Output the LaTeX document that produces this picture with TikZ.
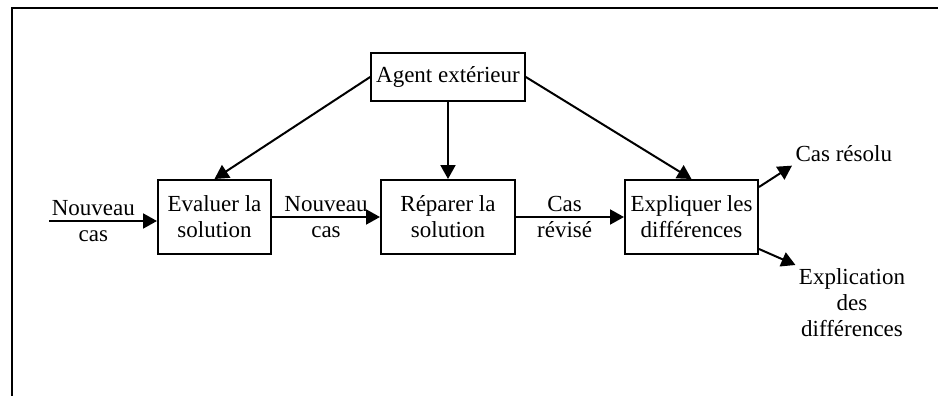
\documentclass[tikz,border=0pt]{standalone}
\usepackage{fontspec}
\setmainfont{Liberation Serif}
\usetikzlibrary{arrows.meta,positioning}
\newcommand{\taille}{\fontsize{23}{26}\selectfont}
\tikzset{
	etape/.style={
		rectangle,
		draw,
		line width=2pt,
		align=center,
		minimum height=74pt,
		inner xsep=5pt,
		font=\taille,
	},
	texte/.style={
		align=center,
		font=\taille,
	},
	fleche/.style={
		-{Triangle[length=14pt,width=15pt]},
		line width=2pt,
	},
}

\begin{document}
\begin{tikzpicture}[x=1pt,y=1pt,node distance=108pt]
	\useasboundingbox (0,0) rectangle (938,-396);
	\draw[line width=2.2pt] (12,-396) -- (12,-8) -- (938,-8);

	\node[etape,minimum width=113pt] (evaluer) at (214.5,-217) {Evaluer la\\solution};
	\node[etape,minimum width=134pt,right=of evaluer] (reparer) {Réparer la\\solution};
	\node[etape,minimum width=133pt,right=of reparer] (expliquer) {Expliquer les\\différences};
	\node[etape,minimum width=150pt,minimum height=48pt] (agent) at (448,-77) {Agent extérieur};
	\node[texte,anchor=west] (resolu) at (792,-154) {Cas résolu};
	\node[texte,anchor=north] (explication) at (852,-265) {Explication\\des\\différences};
	\coordinate (entree) at (49,-221);

	\draw[fleche] (entree) -- node[texte,pos=0.41] {Nouveau\\cas} (entree -| evaluer.west);
	\draw[fleche] (evaluer) -- node[texte] {Nouveau\\cas} (reparer);
	\draw[fleche] (reparer) -- node[texte,pos=0.45] {Cas\\révisé} (expliquer);
	\draw[fleche] (agent.west) -- (evaluer.north);
	\draw[fleche] (agent.south -| reparer.north) -- (reparer.north);
	\draw[fleche] (agent.east) -- (expliquer.north);
	\draw[fleche] ([yshift=-8pt]expliquer.north east) -- (resolu.south west);
	\draw[fleche] ([yshift=6pt]expliquer.south east) -- (explication.north west);
\end{tikzpicture}
\end{document}
